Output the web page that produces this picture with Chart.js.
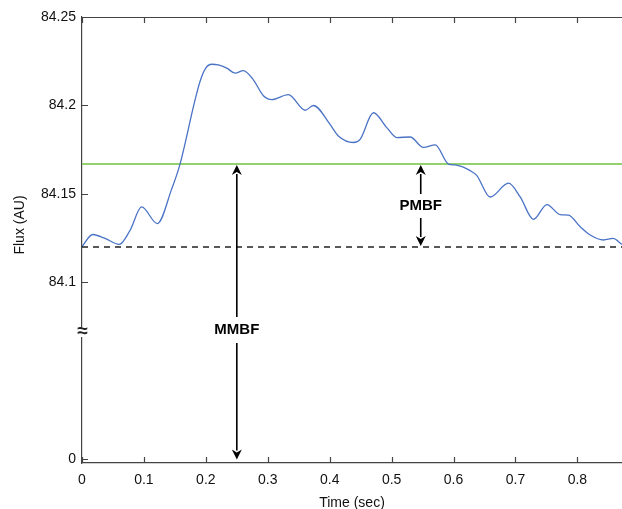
<!DOCTYPE html>
<html>
<head>
<meta charset="utf-8">
<script src="https://cdn.jsdelivr.net/npm/chart.js@4.4.1/dist/chart.umd.min.js"></script>
<style>
html,body{margin:0;padding:0;background:#fff;}
#wrap{width:622px;height:509px;}
</style>
</head>
<body>
<div id="wrap"><canvas id="c" width="622" height="509"></canvas></div>
<script>
// Time (sec)
const timeSec = [0, 0.0173, 0.0372, 0.0603, 0.0775, 0.0964, 0.1216, 0.1449, 0.1583, 0.1814,
  0.1906, 0.1998, 0.2095, 0.2202, 0.2338, 0.2472, 0.2606, 0.2767, 0.2929, 0.3065,
  0.3333, 0.3603, 0.3737, 0.4006, 0.414, 0.4383, 0.4491, 0.4706, 0.4922, 0.5084,
  0.5299, 0.5514, 0.5703, 0.5918, 0.6026, 0.6268, 0.6376, 0.6591, 0.6887, 0.7076,
  0.7291, 0.7507, 0.7722, 0.7856, 0.8045, 0.8207, 0.8422, 0.8574, 0.8719];
// Flux (AU)
const flux = [84.1203, 84.1271, 84.1249, 84.1215, 84.1294, 84.1427, 84.1333, 84.1529, 84.1669, 84.2015,
  84.2136, 84.2211, 84.2233, 84.2229, 84.2211, 84.2183, 84.2197, 84.2145, 84.2055, 84.2033,
  84.2061, 84.1973, 84.2000, 84.1893, 84.1828, 84.1791, 84.1809, 84.1959, 84.1875, 84.1819,
  84.1822, 84.1763, 84.1777, 84.1669, 84.1664, 84.1632, 84.1604, 84.1483, 84.1561, 84.1483,
  84.1357, 84.1440, 84.1383, 84.1380, 84.1315, 84.1268, 84.1240, 84.1249, 84.1215];
const meanLevel = 84.167;      // green line
const baselineLevel = 84.12;   // dashed line
const zeroLevel = 84.0;        // displayed as "0" (broken axis)
const breakLevel = 84.072;     // axis break mark
const xTicks = [0, 0.1, 0.2, 0.3, 0.4, 0.5, 0.6, 0.7, 0.8];
const yTicks = [84.0, 84.1, 84.15, 84.2, 84.25];
const yTickLabels = ["0", "84.1", "84.15", "84.2", "84.25"];
const mmbfTime = 0.25;
const pmbfTime = 0.547;
const xMax = 0.872;
const yTitle = 'Flux (AU)';

const FONT = "'Liberation Sans', Arial, sans-serif";
const AXIS = '#444';

const overlay = {
  id: 'overlay',
  afterDatasetsDraw(chart) {
    const {ctx, chartArea: a, scales: {x, y}} = chart;
    ctx.save();
    // top border
    ctx.strokeStyle = AXIS; ctx.lineWidth = 1.2;
    ctx.beginPath(); ctx.moveTo(a.left, a.top + 0.5); ctx.lineTo(a.right, a.top + 0.5); ctx.stroke();
    // inward ticks
    ctx.beginPath();
    xTicks.forEach(v => {
      const px = Math.round(x.getPixelForValue(v)) + 0.5;
      ctx.moveTo(px, a.bottom); ctx.lineTo(px, a.bottom - 6);
      ctx.moveTo(px, a.top); ctx.lineTo(px, a.top + 6);
    });
    yTicks.forEach(v => {
      const py = Math.round(y.getPixelForValue(v)) + 0.5;
      ctx.moveTo(a.left, py); ctx.lineTo(a.left + 6, py);
    });
    ctx.stroke();

    // axis break mark
    const by = y.getPixelForValue(breakLevel);
    ctx.fillStyle = '#fff';
    ctx.fillRect(a.left - 5, by - 5, 10, 10);
    ctx.fillStyle = '#222';
    ctx.font = 'bold 19px ' + FONT;
    ctx.textAlign = 'center'; ctx.textBaseline = 'middle';
    ctx.fillText('\u2248', a.left + 0.5, by);

    // y axis title
    ctx.save();
    ctx.translate(20, 225);
    ctx.rotate(-Math.PI / 2);
    ctx.fillStyle = '#111';
    ctx.font = '14px ' + FONT;
    ctx.textAlign = 'center'; ctx.textBaseline = 'middle';
    ctx.fillText(yTitle, 0, 0);
    ctx.restore();

    function arrow(px, y1, y2, gapC, gapH, label) {
      ctx.strokeStyle = '#000'; ctx.fillStyle = '#000'; ctx.lineWidth = 1.6;
      const head = 10, hw = 5;
      ctx.beginPath();
      ctx.moveTo(px, y1 - head + 1); ctx.lineTo(px, gapC + gapH / 2);
      ctx.moveTo(px, gapC - gapH / 2); ctx.lineTo(px, y2 + head - 1);
      ctx.stroke();
      ctx.beginPath();
      ctx.moveTo(px, y2); ctx.lineTo(px - hw, y2 + head); ctx.lineTo(px, y2 + head - 3); ctx.lineTo(px + hw, y2 + head); ctx.closePath(); ctx.fill();
      ctx.beginPath();
      ctx.moveTo(px, y1); ctx.lineTo(px - hw, y1 - head); ctx.lineTo(px, y1 - head + 3); ctx.lineTo(px + hw, y1 - head); ctx.closePath(); ctx.fill();
      ctx.font = 'bold 15px ' + FONT;
      ctx.textAlign = 'center'; ctx.textBaseline = 'middle';
      ctx.fillText(label, px, gapC);
    }
    const gy = y.getPixelForValue(meanLevel);
    const mx = x.getPixelForValue(mmbfTime);
    arrow(mx, y.getPixelForValue(zeroLevel), gy + 1, 330, 26, 'MMBF');
    const pxp = x.getPixelForValue(pmbfTime);
    arrow(pxp, y.getPixelForValue(baselineLevel) - 1, gy + 1, 206, 24, 'PMBF');
    ctx.restore();
  }
};

new Chart(document.getElementById('c'), {
  type: 'line',
  data: {
    datasets: [
      {
        label: 'Flux',
        data: timeSec.map((t, i) => ({x: t, y: flux[i]})),
        borderColor: '#4a73c6', borderWidth: 1.3, pointRadius: 0, tension: 0.4,
        cubicInterpolationMode: 'monotone', fill: false, order: 1
      },
      {
        label: 'Mean',
        data: [{x: 0, y: meanLevel}, {x: xMax, y: meanLevel}],
        borderColor: '#93d06e', borderWidth: 2, pointRadius: 0, fill: false, order: 2
      },
      {
        label: 'Baseline',
        data: [{x: 0, y: baselineLevel}, {x: xMax, y: baselineLevel}],
        borderColor: '#222', borderWidth: 1.5, borderDash: [6, 5], pointRadius: 0, fill: false, order: 0
      }
    ]
  },
  options: {
    responsive: false,
    animation: false,
    devicePixelRatio: 1,
    layout: {padding: {top: 17, right: 0, left: 0, bottom: 0}},
    plugins: {legend: {display: false}, tooltip: {enabled: false}},
    scales: {
      x: {
        type: 'linear', min: 0, max: xMax,
        afterBuildTicks: s => { s.ticks = xTicks.map(v => ({value: v})); },
        afterFit: s => { s.height = 46; },
        grid: {display: false, drawTicks: false},
        border: {display: true, color: AXIS, width: 1.2},
        ticks: {
          padding: 9, color: '#111', font: {family: FONT, size: 14},
          callback: v => (v === 0 ? '0' : v.toFixed(1)), maxRotation: 0
        },
        title: {display: true, text: 'Time (sec)', color: '#111', font: {family: FONT, size: 14}, padding: {top: 0, bottom: -3}}
      },
      y: {
        type: 'linear', min: 83.998, max: 84.25,
        afterBuildTicks: s => { s.ticks = yTicks.map(v => ({value: v})); },
        afterFit: s => { s.width = 82; },
        grid: {display: false, drawTicks: false},
        border: {display: true, color: AXIS, width: 1.2},
        ticks: {
          padding: 6, color: '#111', font: {family: FONT, size: 14},
          callback: v => { const i = yTicks.findIndex(t => Math.abs(t - v) < 1e-9); return i >= 0 ? yTickLabels[i] : ''; }
        }
      }
    }
  },
  plugins: [overlay]
});
</script>
</body>
</html>
